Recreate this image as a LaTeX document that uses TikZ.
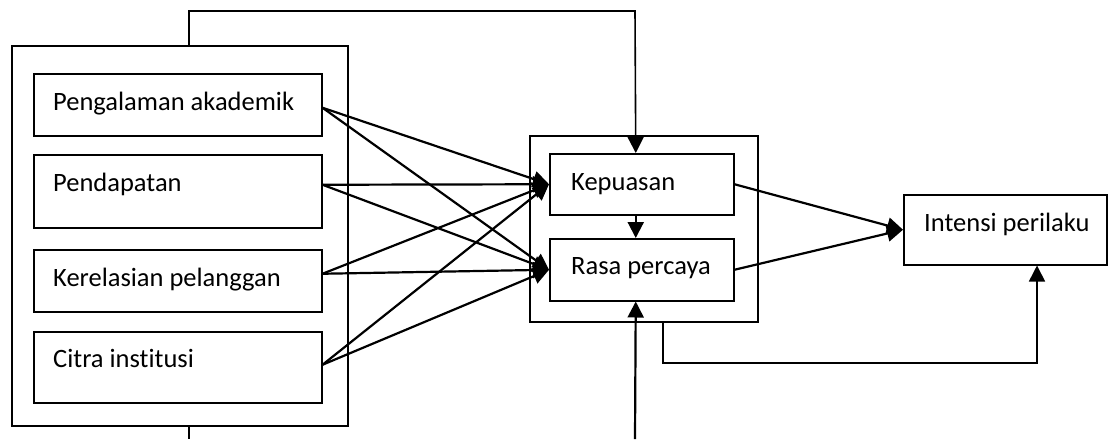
\documentclass[tikz,border=0pt]{standalone}
\usepackage{fontspec}
\setmainfont{Carlito}[Ligatures=NoCommon]
\usetikzlibrary{arrows.meta}
\begin{document}
\begin{tikzpicture}[x=1pt,y=-1pt,
 box/.style={draw,line width=1.5pt,rectangle,anchor=north west,inner sep=0pt},
 lbl/.style={anchor=base west,font=\fontsize{26.5}{30}\selectfont,inner sep=0pt},
 arr/.style={line width=2.2pt,-{Triangle[length=16pt,width=16pt]}},
 ln/.style={line width=1.6pt}]
\useasboundingbox (0,0) rectangle (1110,439);
\node[box,minimum width=336pt,minimum height=380pt] (L) at (11,45) {};
\node[box,minimum width=288pt,minimum height=62pt] (A) at (33,73) {};
\node[box,minimum width=288pt,minimum height=73pt] (B) at (33,154) {};
\node[box,minimum width=288pt,minimum height=62pt] (C) at (33,249) {};
\node[box,minimum width=288pt,minimum height=71pt] (D) at (33,331) {};
\node[box,minimum width=228pt,minimum height=186pt] (M) at (529,135) {};
\node[box,minimum width=184pt,minimum height=61pt] (K) at (549,153) {};
\node[box,minimum width=184pt,minimum height=62pt] (R) at (549,238) {};
\node[box,minimum width=203pt,minimum height=70pt] (I) at (903,194) {};
\node[lbl] (tA) at (53,110) {Pengalaman akademik};
\node[lbl] (tB) at (53,191) {Pendapatan};
\node[lbl] (tC) at (53,286) {Kerelasian pelanggan};
\node[lbl] (tD) at (53,367) {Citra institusi};
\node[lbl] (tK) at (571,190) {Kepuasan};
\node[lbl] (tR) at (571,274) {Rasa percaya};
\node[lbl] (tI) at (924,231) {Intensi perilaku};
% left arrows
\foreach \s/\sh in {A/-3,B/6.5,C/7,D/2.5}{
  \draw[arr] ([yshift=\sh pt]\s.east) -- (K.west);
  \draw[arr] ([yshift=\sh pt]\s.east) -- (R.west);
}
\draw[arr] (K.east) -- (I.west);
\draw[arr] (R.east) -- (I.west);
\draw[arr] ([xshift=-6pt]K.south) -- ([xshift=-6pt]R.north);
% top connector
\coordinate (p1) at (189,11);
\coordinate (p2) at (635,11);
\draw[ln,-{Triangle[length=16pt,width=16pt]}] (L.north -| p1) -- (p1) -- (p2) -- ([xshift=-6pt]K.north);
% bottom
\coordinate (b1) at (189,439);
\draw[ln] (L.south -| b1) -- (b1);
\coordinate (b2) at (635,439);
\draw[arr] (b2) -- ([xshift=-6pt]R.south);
\coordinate (c1) at (663,363);
\coordinate (c2) at (1037,363);
\draw[ln,-{Triangle[length=16pt,width=16pt]}] (M.south -| c1) -- (c1) -- (c2) -- (I.south -| c2);
\end{tikzpicture}
\end{document}
